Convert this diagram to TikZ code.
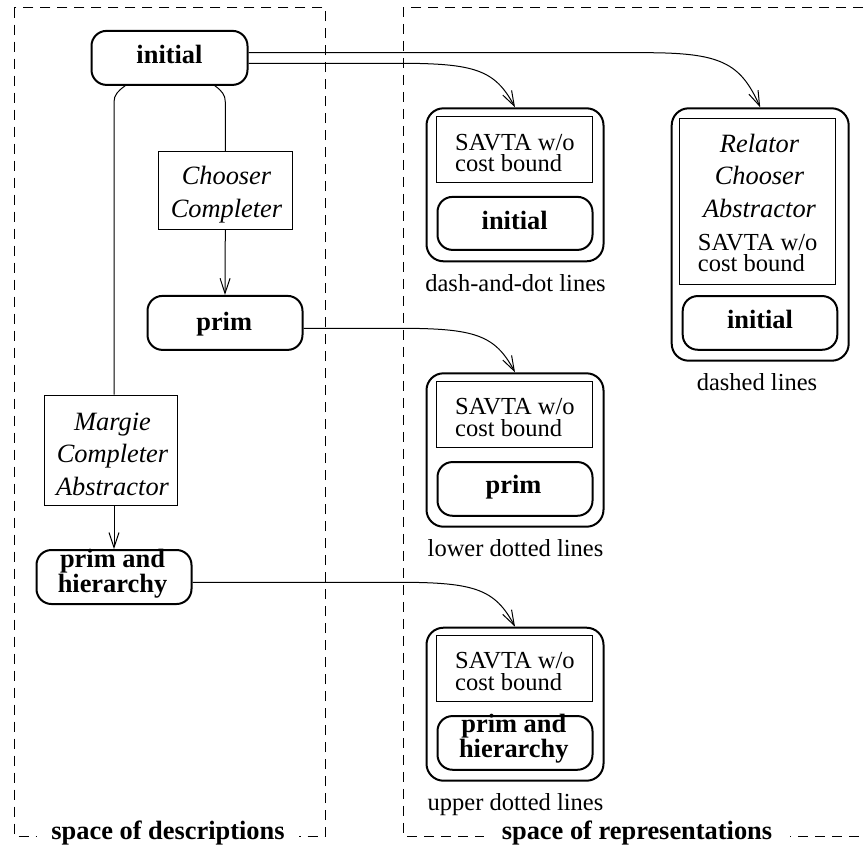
\documentclass[tikz,border=0pt]{standalone}
\usepackage{fontspec}
\setmainfont{Liberation Serif}
\usetikzlibrary{arrows.meta}

\tikzset{
  spaceframe/.style={draw, line width=0.8pt, dash pattern=on 10pt off 7pt},
  state/.style={draw, line width=2pt, rounded corners=15pt, inner sep=0pt},
  holder/.style={draw, line width=2pt, rounded corners=17pt, inner sep=0pt},
  opbox/.style={draw, line width=1pt, inner sep=0pt},
  link/.style={line width=1pt},
  flow/.style={line width=1pt, -{Straight Barb[length=15pt,width=10pt]}},
  % multi-line texts are placed by the baseline of their last line
  bftext/.style={font=\fontsize{26.4}{21.5}\selectfont\bfseries, inner sep=0pt, anchor=base, align=center},
  ittext/.style={font=\fontsize{26.4}{32.5}\selectfont\itshape, inner sep=0pt, anchor=base, align=center},
  rmtext/.style={font=\fontsize{24.5}{21.7}\selectfont, inner sep=0pt, anchor=base},
  rmleft/.style={font=\fontsize{24.5}{21.7}\selectfont, inner sep=0pt, anchor=base west, align=left},
  spacelabel/.style={font=\fontsize{26.4}{26.4}\selectfont\bfseries, fill=white, inner ysep=2pt, anchor=mid}
}

\begin{document}
\begin{tikzpicture}[x=1pt,y=-1pt]
\useasboundingbox (0,0) rectangle (865,849);

% the two spaces
\draw[spaceframe] (14,7.5) rectangle (325.7,836);
\draw[spaceframe] (880,7.5) -- (403.3,7.5) -- (403.3,836) -- (880,836);
\node[spacelabel, inner xsep=14pt] (sdesc) at (168,837.3) {space of descriptions};
\node[spacelabel, inner xsep=18pt] (srep) at (637,837.3) {space of representations};

% ---------- space of descriptions ----------
\node[state, minimum width=156pt, minimum height=54pt] (init) at (169.5,57.9) {};
\node[bftext] (initT) at (169.5,63.3) {initial};

\node[opbox, minimum width=134pt, minimum height=77.6pt] (chooser) at (225.3,190.5) {};
\node[ittext] (chooserT) at (226.5,217) {Chooser\\Completer};

\node[state, minimum width=155pt, minimum height=54pt] (prim) at (225,322.9) {};
\node[bftext] (primT) at (224.2,330) {prim};

\node[opbox, minimum width=133.4pt, minimum height=110pt] (margie) at (111,450) {};
\node[ittext] (margieT) at (112.5,495) {Margie\\Completer\\Abstractor};

\node[state, minimum width=155pt, minimum height=54pt] (ph) at (114,577) {};
\node[bftext] (phT) at (112.5,592) {prim and\\hierarchy};

% ---------- space of representations ----------
% dash-and-dot lines
\node[holder, minimum width=177pt, minimum height=153pt] (Aout) at (515,184.8) {};
\node[opbox, minimum width=156.7pt, minimum height=66.4pt] (Abox) at (514.4,149.5) {};
\node[rmleft] (AT) at (455,171.7) {SAVTA w/o\\cost bound};
\node[state, minimum width=155pt, minimum height=53pt] (Ain) at (515,223.4) {};
\node[bftext] (AinT) at (514.7,229.3) {initial};
\node[rmtext] (Alab) at (515.5,291.7) {dash-and-dot lines};

% dashed lines
\node[holder, minimum width=177pt, minimum height=252.4pt] (Bout) at (760.2,234.5) {};
\node[opbox, minimum width=156.3pt, minimum height=166pt] (Bbox) at (757.2,201.3) {};
\node[ittext] (BT) at (759.5,217.3) {Relator\\Chooser\\Abstractor};
\node[rmleft] (BTs) at (697.7,271.7) {SAVTA w/o\\cost bound};
\node[state, minimum width=154.6pt, minimum height=53.7pt] (Bin) at (760,322.9) {};
\node[bftext] (BinT) at (760,328.3) {initial};
\node[rmtext] (Blab) at (757,390) {dashed lines};

% lower dotted lines
\node[holder, minimum width=177pt, minimum height=153.4pt] (Cout) at (515,450) {};
\node[opbox, minimum width=156.7pt, minimum height=66pt] (Cbox) at (514.4,414.7) {};
\node[rmleft] (CT) at (455,436) {SAVTA w/o\\cost bound};
\node[state, minimum width=155pt, minimum height=53.7pt] (Cin) at (515,488.9) {};
\node[bftext] (CinT) at (513.5,493.3) {prim};
\node[rmtext] (Clab) at (515.5,556.7) {lower dotted lines};

% upper dotted lines
\node[holder, minimum width=177pt, minimum height=153pt] (Dout) at (515,704.2) {};
\node[opbox, minimum width=156.7pt, minimum height=66pt] (Dbox) at (514.4,668.7) {};
\node[rmleft] (DT) at (455,690) {SAVTA w/o\\cost bound};
\node[state, minimum width=155pt, minimum height=53.7pt] (Din) at (515,742.9) {};
\node[bftext] (DinT) at (513.8,757.3) {prim and\\hierarchy};
\node[rmtext] (Dlab) at (515.5,810) {upper dotted lines};

% ---------- connectors ----------
\coordinate (bendL) at (114,102);
\coordinate (bendR) at (225.3,102);
\draw[link] ([xshift=-44.5pt]init.south) .. controls +(-7,5) and +(0,-7) .. (bendL)
            -- ([xshift=3pt]margie.north);
\draw[link] ([xshift=45.5pt]init.south) .. controls +(7,5) and +(0,-7) .. (bendR)
            -- (chooser.north);
\draw[flow] (chooser.south) -- (prim.north);
\draw[flow] ([xshift=3pt]margie.south) -- (ph.north);

\draw[flow] ([yshift=5.2pt]init.east) -- ++(396.5,0)
            .. controls +(75,0) and +(-20,-45) .. (Bout.north);
\draw[flow] ([yshift=-5.4pt]init.east) -- ++(151.5,0)
            .. controls +(75,0) and +(-20,-37.3) .. (Aout.north);
\draw[flow] ([yshift=-5.4pt]prim.east) -- ++(96.5,0)
            .. controls +(75,0) and +(-20,-37.3) .. (Cout.north);
\draw[flow] ([yshift=-5.3pt]ph.east) -- ++(207.5,0)
            .. controls +(75,0) and +(-20,-37.3) .. (Dout.north);
\end{tikzpicture}
\end{document}
